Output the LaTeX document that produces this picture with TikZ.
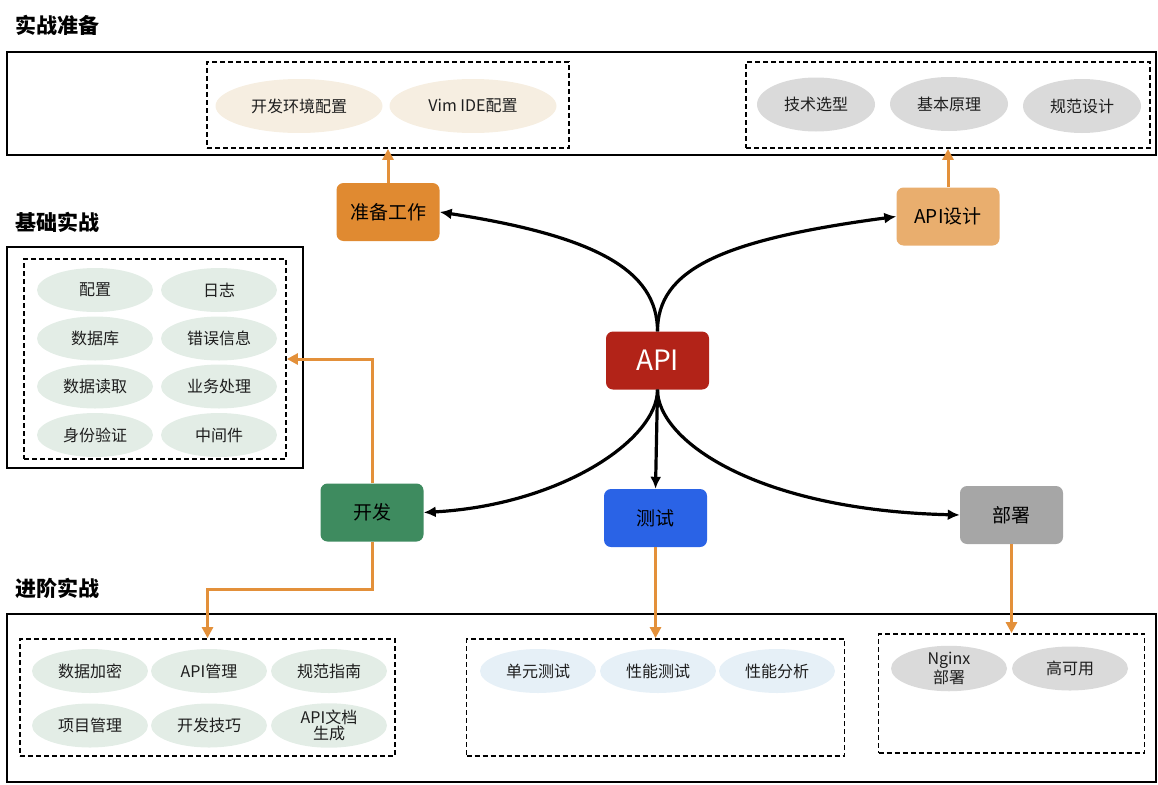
\documentclass[tikz,border=0pt]{standalone}
\usepackage{fontspec}
\setmainfont{Noto Sans CJK SC}
\usetikzlibrary{shapes.geometric,arrows.meta}
\definecolor{feedc}{HTML}{E3903A}
\definecolor{prepc}{HTML}{E08A31}
\definecolor{apidc}{HTML}{E9AE6E}
\definecolor{apic}{HTML}{B22318}
\definecolor{devc}{HTML}{3E8B5F}
\definecolor{testc}{HTML}{2A63E6}
\definecolor{depc}{HTML}{A6A6A6}
\definecolor{beigec}{HTML}{F6EEE1}
\definecolor{grayc}{HTML}{DADADA}
\definecolor{greenc}{HTML}{E3EDE6}
\definecolor{bluec}{HTML}{E6F0F7}
\definecolor{txtc}{HTML}{1E1E1E}
\begin{document}
\begin{tikzpicture}[x=1pt,y=-1pt,
  heading/.style={anchor=west,inner sep=0,font=\bfseries\fontsize{21}{24}\selectfont},
  outerbox/.style={draw=black,line width=2.5pt,inner sep=0},
  dashbox/.style={draw=black,line width=1.8pt,dash pattern=on 5pt off 3pt,inner sep=0},
  oval/.style={ellipse,inner sep=0,minimum width=116pt,minimum height=44pt,text=txtc,
    align=center,font=\fontsize{16}{16.5}\selectfont},
  stagebox/.style={rounded corners=7pt,minimum width=103pt,minimum height=58pt,inner sep=0,
    font=\fontsize{19}{21}\selectfont},
  flow/.style={line width=3.2pt,-{Latex[length=12pt,width=11pt]}},
  feed/.style={draw=feedc,line width=3pt,-{Triangle[length=11pt,width=11pt]}}
]
\useasboundingbox (0,0) rectangle (1158,784);

% headings
\node[heading] (h1) at (15,25) {实战准备};
\node[heading] (h2) at (15,222) {基础实战};
\node[heading] (h3) at (15,588) {进阶实战};

% top section
\node[outerbox,minimum width=1149pt,minimum height=103pt] (topbox) at (581.5,103.5) {};
\node[dashbox,minimum width=362pt,minimum height=86pt] (dashA) at (388,105) {};
\node[dashbox,minimum width=404pt,minimum height=86pt] (dashB) at (948,105) {};
\node[oval,fill=beigec,minimum width=167pt,minimum height=54pt] (o1) at (299,106) {开发环境配置};
\node[oval,fill=beigec,minimum width=167pt,minimum height=54pt] (o2) at (473,106) {Vim IDE配置};
\node[oval,fill=grayc,minimum width=118pt,minimum height=54pt] (o3) at (816,104.5) {技术选型};
\node[oval,fill=grayc,minimum width=118pt,minimum height=54pt] (o4) at (949,104) {基本原理};
\node[oval,fill=grayc,minimum width=118pt,minimum height=54pt] (o5) at (1082,106) {规范设计};

% left section
\node[outerbox,minimum width=296pt,minimum height=221pt] (leftbox) at (155,357.5) {};
\node[dashbox,minimum width=262pt,minimum height=200pt] (ldash) at (155,359) {};
\node[oval,fill=greenc] (l1) at (95,290) {配置};
\node[oval,fill=greenc] (l2) at (219,290) {日志};
\node[oval,fill=greenc] (l3) at (95,338.5) {数据库};
\node[oval,fill=greenc] (l4) at (219,338.5) {错误信息};
\node[oval,fill=greenc] (l5) at (95,386.5) {数据读取};
\node[oval,fill=greenc] (l6) at (219,386.5) {业务处理};
\node[oval,fill=greenc] (l7) at (95,435) {身份验证};
\node[oval,fill=greenc] (l8) at (219,435) {中间件};

% bottom section
\node[outerbox,minimum width=1149pt,minimum height=168pt] (botbox) at (581.5,698) {};
\node[dashbox,minimum width=375pt,minimum height=117pt] (dashC) at (207.5,697.5) {};
\node[dashbox,minimum width=378pt,minimum height=117pt] (dashD) at (655.5,697.5) {};
\node[dashbox,minimum width=266pt,minimum height=119pt] (dashE) at (1011.5,693.5) {};
\node[oval,fill=greenc] (b1) at (90,671) {数据加密};
\node[oval,fill=greenc] (b2) at (209,671) {API管理};
\node[oval,fill=greenc] (b3) at (329,671) {规范指南};
\node[oval,fill=greenc] (b4) at (90,725.5) {项目管理};
\node[oval,fill=greenc] (b5) at (209,725.5) {开发技巧};
\node[oval,fill=greenc] (b6) at (329,725.5) {API文档\\生成};
\node[oval,fill=bluec] (t1) at (538,671) {单元测试};
\node[oval,fill=bluec] (t2) at (658,671) {性能测试};
\node[oval,fill=bluec] (t3) at (777,671) {性能分析};
\node[oval,fill=grayc] (d1) at (949,668.5) {Nginx\\部署};
\node[oval,fill=grayc] (d2) at (1070,668.5) {高可用};

% stages
\node[stagebox,fill=prepc] (prep) at (388,212) {准备工作};
\node[stagebox,fill=apidc] (apid) at (948,216.5) {API设计};
\node[stagebox,fill=apic,text=white,font=\fontsize{28}{30}\selectfont] (api) at (657.5,360.5) {API};
\node[stagebox,fill=devc] (dev) at (372,512.5) {开发};
\node[stagebox,fill=testc] (test) at (655.5,518) {测试};
\node[stagebox,fill=depc] (dep) at (1011.5,515) {部署};

% black flows
\draw[flow] (api.north) .. controls (657.5,270) and (595,236) .. (prep.east);
\draw[flow] (api.north) .. controls (657.5,270) and (720,240) .. (apid.west);
\draw[flow] (api.south) .. controls (657.5,440) and (560,505) .. (dev.east);
\draw[flow] (api.south) -- (test.north);
\draw[flow] (api.south) .. controls (657.5,440) and (755,510) .. (dep.west);

% orange feeds
\draw[feed] (prep.north) -- (dashA.south);
\draw[feed] (apid.north) -- (dashB.south);
\draw[feed] (dev.north) |- (ldash.east);
\coordinate (devbend) at (372,589);
\draw[feed] (dev.south) -- (devbend) -| (dashC.north);
\draw[feed] (test.south) -- (dashD.north);
\draw[feed] (dep.south) -- (dashE.north);
\end{tikzpicture}
\end{document}
